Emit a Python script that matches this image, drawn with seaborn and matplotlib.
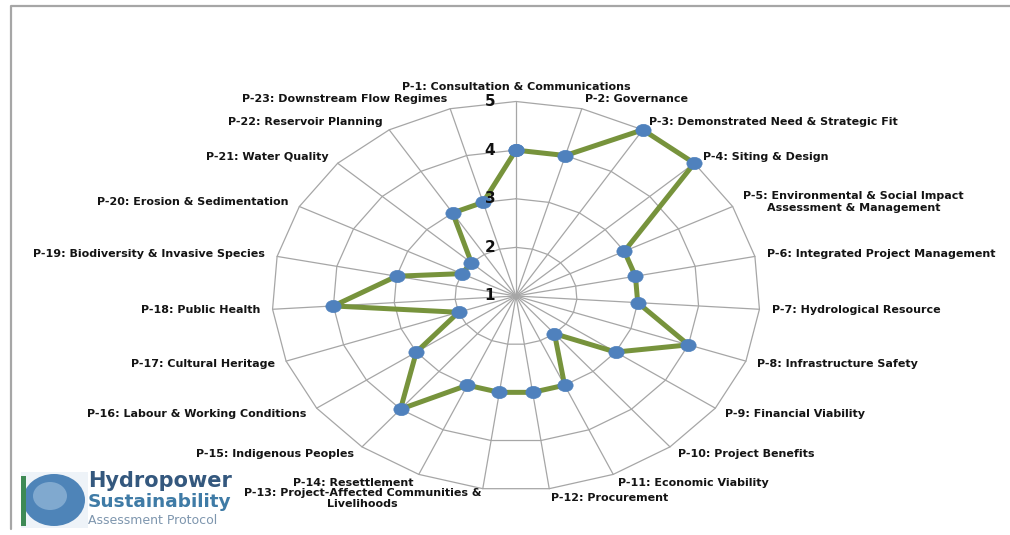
import numpy as np
import pandas as pd
import matplotlib
matplotlib.use("Agg")
import matplotlib.pyplot as plt
import seaborn as sns
from matplotlib.path import Path
from matplotlib.lines import Line2D
from matplotlib.patches import Ellipse, Rectangle

# ---- data -------------------------------------------------------------
categories = [
    "P-1: Consultation & Communications",
    "P-2: Governance",
    "P-3: Demonstrated Need & Strategic Fit",
    "P-4: Siting & Design",
    "P-5: Environmental & Social Impact\nAssessment & Management",
    "P-6: Integrated Project Management",
    "P-7: Hydrological Resource",
    "P-8: Infrastructure Safety",
    "P-9: Financial Viability",
    "P-10: Project Benefits",
    "P-11: Economic Viability",
    "P-12: Procurement",
    "P-13: Project-Affected Communities &\nLivelihoods",
    "P-14: Resettlement",
    "P-15: Indigenous Peoples",
    "P-16: Labour & Working Conditions",
    "P-17: Cultural Heritage",
    "P-18: Public Health",
    "P-19: Biodiversity & Invasive Species",
    "P-20: Erosion & Sedimentation",
    "P-21: Water Quality",
    "P-22: Reservoir Planning",
    "P-23: Downstream Flow Regimes",
]
scores = [4, 4, 5, 5, 3, 3, 3, 4, 3, 2, 3, 3, 3, 3, 4, 3, 2, 4, 3, 2, 2, 3, 3]
ring_levels = [1, 2, 3, 4, 5]

logo_lines = ["Hydropower", "Sustainability", "Assessment Protocol"]

# ---- style ------------------------------------------------------------
sns.set_theme(style="white")
plt.rcParams["font.family"] = ["DejaVu Sans"]

W, H = 1010, 535
fig = plt.figure(figsize=(W / 100, H / 100), dpi=100)
fig.patch.set_facecolor("white")


def fx(px):
    return px / W


def fy(py):
    return 1 - py / H


# stretched (elliptical) radar area
ax = fig.add_axes([fx(272), fy(490.5), fx(760) - fx(272), fy(101.5) - fy(490.5)],
                  projection="polar")
ax.set_aspect("auto")
ax.set_theta_zero_location("N")
ax.set_theta_direction(-1)

n = len(categories)
theta = 2 * np.pi * np.arange(n) / n
closed = np.append(theta, theta[0])

grid_color = "#A6A6A6"
# polygon rings
for lvl in ring_levels[1:]:
    ax.plot(closed, [lvl] * (n + 1), color=grid_color, lw=0.9, zorder=1,
            clip_on=False)
# spokes
for t in theta:
    ax.plot([t, t], [ring_levels[0], ring_levels[-1]], color=grid_color,
            lw=0.9, zorder=1, clip_on=False)

# elliptical marker, wider than tall
circ = Path.unit_circle()
ellipse_marker = Path(circ.vertices * np.array([1.25, 1.0]), circ.codes)

df = pd.DataFrame({"theta": closed, "score": scores + scores[:1]})
sns.lineplot(data=df, x="theta", y="score", sort=False, estimator=None, ax=ax,
             color="#77933C", lw=3.6, marker=ellipse_marker, markersize=11,
             markerfacecolor="#4F81BD", markeredgecolor="#4F81BD",
             markeredgewidth=0.5, zorder=3, clip_on=False)

ax.set_xlim(0, 2 * np.pi)
ax.set_ylim(ring_levels[0], ring_levels[-1])
ax.set_xticks([])
ax.set_yticks([])
ax.set_xlabel("")
ax.set_ylabel("")
ax.grid(False)
ax.spines["polar"].set_visible(False)
ax.patch.set_visible(False)

# category labels around the chart
for t, lab in zip(theta, categories):
    s = np.sin(t)
    if abs(s) < 1e-9:
        ha, va = "center", "bottom"
    elif s > 0:
        ha, va = "left", "center"
    else:
        ha, va = "right", "center"
    ax.text(t, 5.2, lab, ha=ha, va=va, fontsize=8, fontweight="bold",
            color="#141414", multialignment="center", linespacing=1.2,
            clip_on=False, zorder=6)

# ring values along the top spoke
for lvl in ring_levels:
    ax.annotate(str(lvl), xy=(0, lvl), xytext=(-15, 0),
                textcoords="offset points", ha="right", va="center",
                fontsize=11, fontweight="bold", color="#111111",
                annotation_clip=False, zorder=7)

# chart frame (top and left edges)
fig.add_artist(Line2D([fx(11), fx(11), 1.0], [fy(529), fy(6), fy(6)],
                      transform=fig.transFigure, color="#A6A6A6", lw=1.6))

# logo block in the lower-left corner
fig.add_artist(Rectangle((fx(21), fy(528)), fx(88) - fx(21), fy(472) - fy(528),
                         transform=fig.transFigure, facecolor="#EEF3F8",
                         edgecolor="none"))
fig.add_artist(Ellipse((fx(54), fy(500)), fx(62), fy(0) - fy(52),
                       transform=fig.transFigure, facecolor="#4E84B8",
                       edgecolor="none"))
fig.add_artist(Ellipse((fx(50), fy(496)), fx(34), fy(0) - fy(28),
                       transform=fig.transFigure, facecolor="#8DB3D6",
                       edgecolor="none", alpha=0.8))
fig.add_artist(Rectangle((fx(21), fy(526)), fx(5), fy(476) - fy(526),
                         transform=fig.transFigure, facecolor="#3E8A55",
                         edgecolor="none"))

fig.text(fx(88), fy(481), logo_lines[0], ha="left", va="center",
         fontsize=15, fontweight="bold", color="#34587E")
fig.text(fx(88), fy(502), logo_lines[1], ha="left", va="center",
         fontsize=13.3, fontweight="bold", color="#3F7BA6")
fig.text(fx(88), fy(521), logo_lines[2], ha="left", va="center",
         fontsize=9, color="#7E96AE")

fig.savefig("out.png", dpi=100, facecolor="white")
